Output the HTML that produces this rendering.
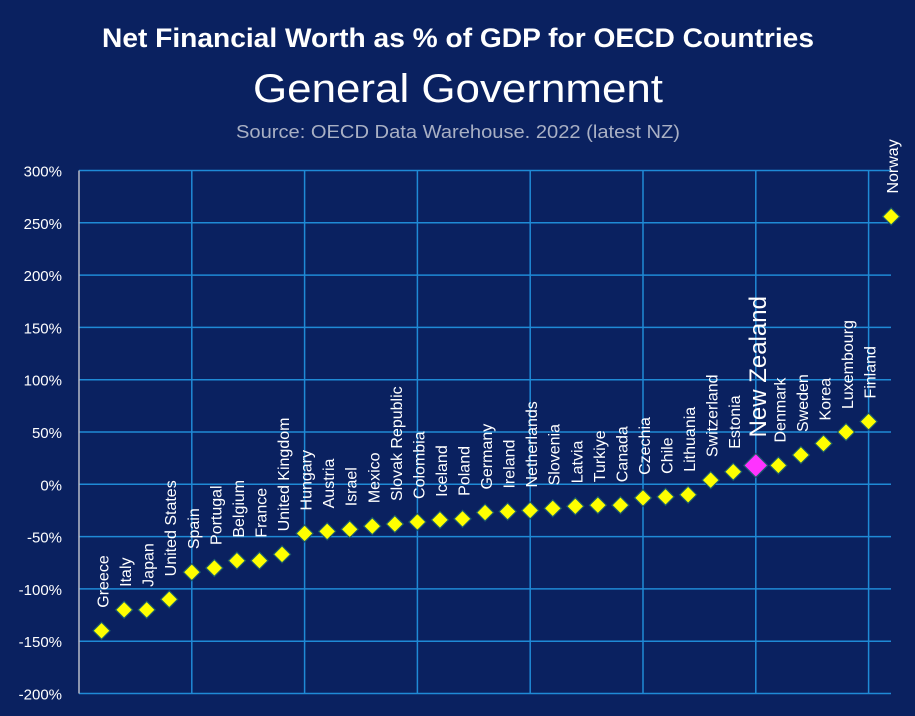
<!DOCTYPE html>
<html><head><meta charset="utf-8"><style>
html,body{margin:0;padding:0;background:#0a2160;}
svg{display:block;font-family:"Liberation Sans",sans-serif;}
</style></head><body>
<svg id="chart" width="915" height="716" viewBox="0 0 915 716">
<rect x="0" y="0" width="915" height="716" fill="#0a2160"/>
<text x="458" y="47" text-anchor="middle" fill="#fff" font-size="27" font-weight="bold" textLength="712" lengthAdjust="spacingAndGlyphs">Net Financial Worth as % of GDP for OECD Countries</text>
<text x="458" y="102" text-anchor="middle" fill="#fff" font-size="40" textLength="410" lengthAdjust="spacingAndGlyphs">General Government</text>
<text x="458" y="138" text-anchor="middle" fill="#a9b0c4" font-size="18" textLength="444" lengthAdjust="spacingAndGlyphs">Source: OECD Data Warehouse. 2022 (latest NZ)</text>
<g id="grid"></g><g id="axis"></g><g id="marks"></g>
</svg>
<script>
const countries=["Greece","Italy","Japan","United States","Spain","Portugal","Belgium","France","United Kingdom","Hungary","Austria","Israel","Mexico","Slovak Republic","Colombia","Iceland","Poland","Germany","Ireland","Netherlands","Slovenia","Latvia","Turkiye","Canada","Czechia","Chile","Lithuania","Switzerland","Estonia","New Zealand","Denmark","Sweden","Korea","Luxembourg","Finland","Norway"];
const values=[-140,-120,-120,-110,-84,-80,-73,-73,-67,-47,-45,-43,-40,-38,-36,-34,-33,-27,-26,-25,-23,-21,-20,-20,-13,-12,-10,4,12,18,18,28,39,50,60,256];
const yTicks=[300,250,200,150,100,50,0,-50,-100,-150,-200];
const highlight="New Zealand";
const NS="http://www.w3.org/2000/svg";
const X0=79,X1=891,STEP=22.56;
function xs(i){return X0+STEP*(i+1);}
function ys(v){return 484.3-v*1.046;}
function mk(tag,attrs,parent){const e=document.createElementNS(NS,tag);for(const k in attrs)e.setAttribute(k,attrs[k]);parent.appendChild(e);return e;}
const grid=document.getElementById('grid'),axis=document.getElementById('axis'),marks=document.getElementById('marks');
yTicks.forEach(t=>{
  const l=mk('line',{x1:X0,x2:X1,y1:ys(t),y2:ys(t),stroke:'#1f8ad6','stroke-width':1.5},grid);
  
  
  const tx=mk('text',{x:62,y:ys(t)+6,'text-anchor':'end',fill:'#fff','font-size':15},axis);
  tx.textContent=t+'%';
  
  
});
countries.forEach((c,i)=>{
  if(i%5===4){
    const l=mk('line',{x1:xs(i),x2:xs(i),y1:ys(300),y2:ys(-200),stroke:'#1f8ad6','stroke-width':1.5},grid);
    
    
  }
});
const ax=mk('line',{x1:X0,x2:X0,y1:ys(300),y2:ys(-200),stroke:'#b8bcc8','stroke-width':1.5},axis);


countries.forEach((c,i)=>{
  const x=xs(i),y=ys(values[i]),hl=c===highlight,r=hl?12:8.5;
  const p=mk('polygon',{points:`${x},${y-r} ${x+r},${y} ${x},${y+r} ${x-r},${y}`,fill:hl?'#ff33ff':'#ffff00',stroke:'#1a5a6a','stroke-width':1.2},marks);
  
  
  const ly=y-(hl?28:23), fs=hl?24:16, lx=x+(hl?10:7);
  const t=mk('text',{x:lx,y:ly,fill:'#fff','font-size':fs,transform:`rotate(-90 ${lx} ${ly})`},marks);
  t.textContent=c;
  
  
});
</script>
</body></html>
